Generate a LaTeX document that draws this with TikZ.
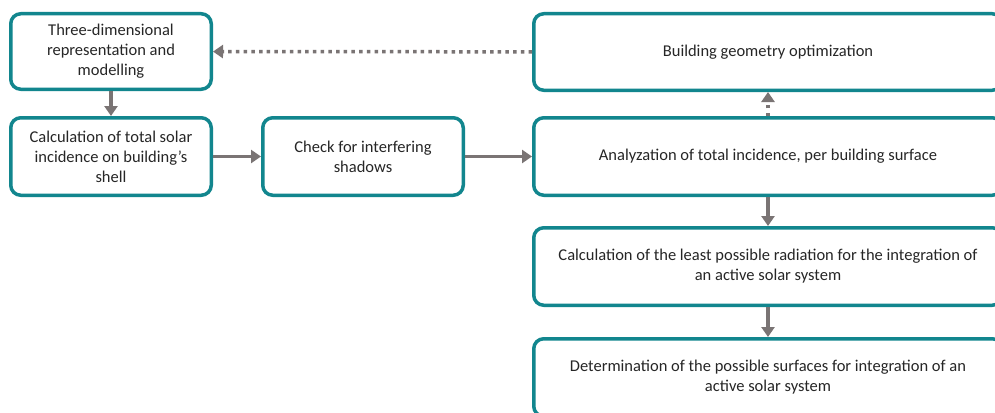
\documentclass[tikz,border=0pt]{standalone}
\usepackage{fontspec}
\setmainfont{Carlito}
\usetikzlibrary{arrows.meta}
\definecolor{tealbox}{RGB}{18,134,142}
\definecolor{arrgrey}{RGB}{122,116,116}
\begin{document}
\begin{tikzpicture}[x=1pt,y=-1pt,
  box/.style={draw=tealbox, line width=3.5pt, rounded corners=10pt, fill=white,
    align=center, inner sep=0pt, font=\fontsize{16.5}{20}\selectfont, text=black!85},
  flow/.style={draw=arrgrey, line width=3.5pt, -{Triangle[length=10pt,width=13pt]}, arrgrey},
  dotflow/.style={flow, dash pattern=on 3.5pt off 4.2pt}]
\useasboundingbox (0,0) rectangle (995,412);
\clip (0,0) rectangle (995,412);
\fill[white] (0,0) rectangle (995,412);
\node[box, minimum width=200.5pt, minimum height=75.5pt] (A) at (111,51.5) {Three-dimensional\\representation and\\modelling};
\node[box, minimum width=200.5pt, minimum height=77.5pt] (B) at (111,156.5) {Calculation of total solar\\incidence on building’s\\shell};
\node[box, minimum width=200.5pt, minimum height=77.5pt] (C) at (363,156.5) {Check for interfering\\shadows};
\node[box, minimum width=468.5pt, minimum height=76.5pt] (D) at (768,52) {Building geometry optimization};
\node[box, minimum width=468.5pt, minimum height=77.5pt] (E) at (768,156.5) {Analyzation of total incidence, per building surface};
\node[box, minimum width=468.5pt, minimum height=77.5pt] (F) at (768,266.5) {Calculation of the least possible radiation for the integration of\\an active solar system};
\node[box, minimum width=468.5pt, minimum height=77.5pt] (G) at (768,377.5) {Determination of the possible surfaces for integration of an\\active solar system};
\draw[flow] (A) -- (B);
\draw[flow] (B) -- (C);
\draw[flow] (C) -- (E);
\draw[flow] (E) -- (F);
\draw[flow] (F) -- (G);
\draw[dotflow] (D) -- (A);
\draw[dotflow] (E) -- (D);
\end{tikzpicture}
\end{document}
